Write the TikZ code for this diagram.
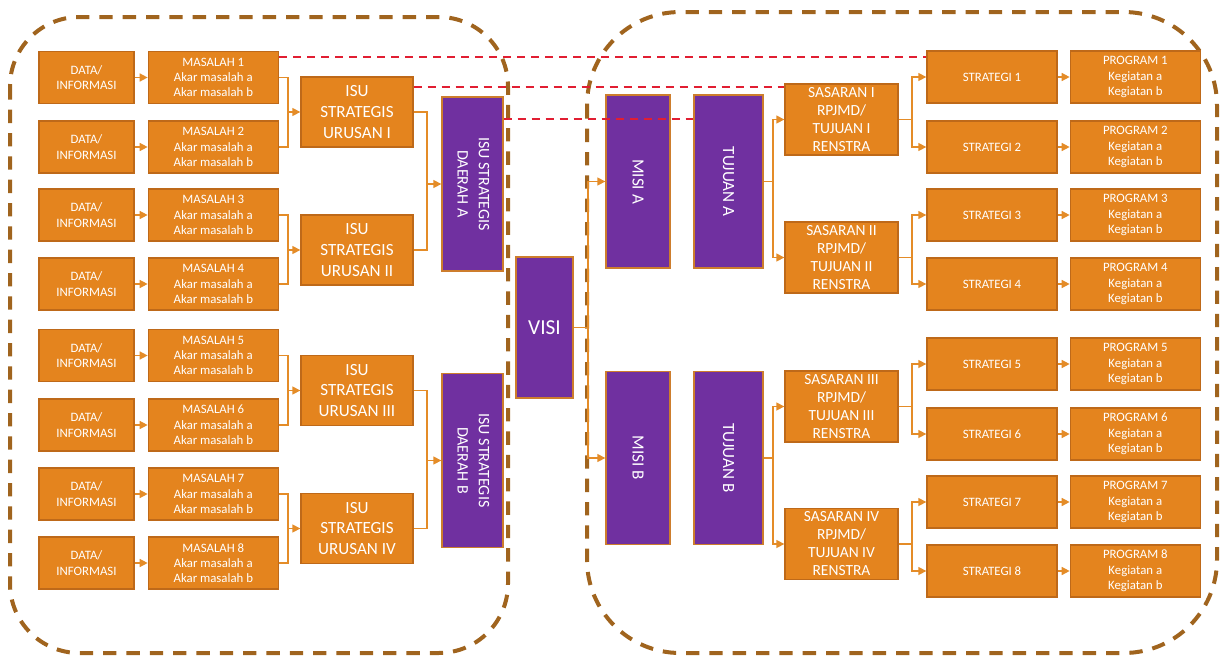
\documentclass[tikz,border=0pt]{standalone}
\usepackage{fontspec}
\setmainfont{Carlito}
\usepackage{tikz}
\usetikzlibrary{positioning,arrows.meta}
\definecolor{boxorange}{RGB}{228,132,30}
\definecolor{boxedge}{RGB}{190,105,25}
\definecolor{boxpurple}{RGB}{112,48,160}
\definecolor{purpleedge}{RGB}{205,125,45}
\definecolor{linkorange}{RGB}{228,140,40}
\definecolor{linkred}{RGB}{225,30,50}
\definecolor{zonebrown}{RGB}{160,100,30}
\tikzset{
    item/.style={
        rectangle,
        draw=boxedge,
        line width=1pt,
        fill=boxorange,
        text=white,
        align=center,
        inner sep=0pt,
        minimum width=97.5pt,
        minimum height=39pt,
        font=\fontsize{9.6pt}{11.5pt}\selectfont
    },
    datum/.style={item, minimum width=71.25pt},
    issue/.style={item, minimum width=84pt, minimum height=52.5pt, font=\fontsize{12.8pt}{15.5pt}\selectfont},
    target/.style={item, minimum width=84.75pt, minimum height=53.25pt, font=\fontsize{11.6pt}{13.5pt}\selectfont},
    pillar/.style={
        rectangle,
        draw=purpleedge,
        line width=1pt,
        fill=boxpurple,
        text=white,
        inner sep=0pt
    },
    arrow/.style={
        -{Triangle[length=6pt,width=6pt]},
        draw=linkorange,
        line width=1.1pt
    },
    joint/.style={draw=linkorange, line width=1.1pt},
    link/.style={draw=linkred, line width=1.5pt, dash pattern=on 6pt off 4.5pt},
    zone/.style={draw=zonebrown, line width=3pt, dash pattern=on 10pt off 7.5pt}
}

\begin{document}
\begin{tikzpicture}[x=0.75pt, y=-0.75pt]
          \useasboundingbox (0,0) rectangle (1221,657);
          % dashed zones
          \draw [zone, rounded corners=52pt] (10,17) rectangle (508,653);
          \draw [zone, rounded corners=70pt] (587,12) rectangle (1217,653);
          % left side
          \node (data1) [datum] at (86.5,77.5) {DATA/\\INFORMASI};
          \node (data2) [datum] at (86.5,147) {DATA/\\INFORMASI};
          \node (data3) [datum] at (86.5,215) {DATA/\\INFORMASI};
          \node (data4) [datum] at (86.5,284) {DATA/\\INFORMASI};
          \node (data5) [datum] at (86.5,355.5) {DATA/\\INFORMASI};
          \node (data6) [datum] at (86.5,425) {DATA/\\INFORMASI};
          \node (data7) [datum] at (86.5,494) {DATA/\\INFORMASI};
          \node (data8) [datum] at (86.5,563) {DATA/\\INFORMASI};
          \node (mas1) [item, right=9.75pt of data1] {MASALAH 1\\Akar masalah a\\Akar masalah b};
          \node (mas2) [item, right=9.75pt of data2] {MASALAH 2\\Akar masalah a\\Akar masalah b};
          \node (mas3) [item, right=9.75pt of data3] {MASALAH 3\\Akar masalah a\\Akar masalah b};
          \node (mas4) [item, right=9.75pt of data4] {MASALAH 4\\Akar masalah a\\Akar masalah b};
          \node (mas5) [item, right=9.75pt of data5] {MASALAH 5\\Akar masalah a\\Akar masalah b};
          \node (mas6) [item, right=9.75pt of data6] {MASALAH 6\\Akar masalah a\\Akar masalah b};
          \node (mas7) [item, right=9.75pt of data7] {MASALAH 7\\Akar masalah a\\Akar masalah b};
          \node (mas8) [item, right=9.75pt of data8] {MASALAH 8\\Akar masalah a\\Akar masalah b};
          \node (isu1) [issue] at (357,112) {ISU\\STRATEGIS\\URUSAN I};
          \node (isu2) [issue] at (357,250) {ISU\\STRATEGIS\\URUSAN II};
          \node (isu3) [issue] at (357,390.5) {ISU\\STRATEGIS\\URUSAN III};
          \node (isu4) [issue] at (357,528.5) {ISU\\STRATEGIS\\URUSAN IV};
          \node (daerahA) [pillar, minimum width=45.75pt, minimum height=130.5pt, font=\fontsize{12pt}{16pt}\selectfont] at (472.5,184)
              {\rotatebox{-90}{\begin{tabular}{@{}c@{}}ISU STRATEGIS\\DAERAH A\end{tabular}}};
          \node (daerahB) [pillar, minimum width=45.75pt, minimum height=130.5pt, font=\fontsize{12pt}{16pt}\selectfont] at (472.5,460.5)
              {\rotatebox{-90}{\begin{tabular}{@{}c@{}}ISU STRATEGIS\\DAERAH B\end{tabular}}};
          % middle
          \node (visi) [pillar, minimum width=42.75pt, minimum height=105.75pt, font=\fontsize{16pt}{19pt}\selectfont] at (544.5,327.5) {VISI};
          \node (misiA) [pillar, minimum width=48pt, minimum height=129.75pt, font=\fontsize{12.8pt}{15pt}\selectfont] at (638,181.5) {\rotatebox{-90}{MISI A}};
          \node (misiB) [pillar, minimum width=48pt, minimum height=129.75pt, font=\fontsize{12.8pt}{15pt}\selectfont] at (638,458) {\rotatebox{-90}{MISI B}};
          \node (tujA) [pillar, minimum width=51.75pt, minimum height=129.75pt, font=\fontsize{12.8pt}{15pt}\selectfont] at (728.5,181.5) {\rotatebox{-90}{TUJUAN A}};
          \node (tujB) [pillar, minimum width=51.75pt, minimum height=129.75pt, font=\fontsize{12.8pt}{15pt}\selectfont] at (728.5,458) {\rotatebox{-90}{TUJUAN B}};
          % right side
          \node (sas1) [target] at (841.5,119.5) {SASARAN I\\RPJMD/\\TUJUAN I\\RENSTRA};
          \node (sas2) [target] at (841.5,257.5) {SASARAN II\\RPJMD/\\TUJUAN II\\RENSTRA};
          \node (sas3) [target] at (841.5,406.5) {SASARAN III\\RPJMD/\\TUJUAN III\\RENSTRA};
          \node (sas4) [target] at (841.5,544) {SASARAN IV\\RPJMD/\\TUJUAN IV\\RENSTRA};
          \node (strat1) [item] at (992,77) {STRATEGI 1};
          \node (strat2) [item] at (992,147) {STRATEGI 2};
          \node (strat3) [item] at (992,215) {STRATEGI 3};
          \node (strat4) [item] at (992,284) {STRATEGI 4};
          \node (strat5) [item] at (992,364) {STRATEGI 5};
          \node (strat6) [item] at (992,434) {STRATEGI 6};
          \node (strat7) [item] at (992,502) {STRATEGI 7};
          \node (strat8) [item] at (992,571) {STRATEGI 8};
          \node (prog1) [item, right=9pt of strat1] {PROGRAM 1\\Kegiatan a\\Kegiatan b};
          \node (prog2) [item, right=9pt of strat2] {PROGRAM 2\\Kegiatan a\\Kegiatan b};
          \node (prog3) [item, right=9pt of strat3] {PROGRAM 3\\Kegiatan a\\Kegiatan b};
          \node (prog4) [item, right=9pt of strat4] {PROGRAM 4\\Kegiatan a\\Kegiatan b};
          \node (prog5) [item, right=9pt of strat5] {PROGRAM 5\\Kegiatan a\\Kegiatan b};
          \node (prog6) [item, right=9pt of strat6] {PROGRAM 6\\Kegiatan a\\Kegiatan b};
          \node (prog7) [item, right=9pt of strat7] {PROGRAM 7\\Kegiatan a\\Kegiatan b};
          \node (prog8) [item, right=9pt of strat8] {PROGRAM 8\\Kegiatan a\\Kegiatan b};
          % junctions
          \coordinate (j1) at (288,112);
          \coordinate (j2) at (288,250);
          \coordinate (j3) at (288,390.5);
          \coordinate (j4) at (288,528.5);
          \coordinate (jA) at (427,184);
          \coordinate (jB) at (427,460.5);
          \coordinate (jv) at (588,327.5);
          \coordinate (jtA) at (773,181.5);
          \coordinate (jtB) at (773,458);
          \coordinate (js1) at (912,119.5);
          \coordinate (js2) at (912,257.5);
          \coordinate (js3) at (912,406.5);
          \coordinate (js4) at (912,544);
          % connectors
          \draw [arrow] (data1) -- (mas1);
          \draw [arrow] (data2) -- (mas2);
          \draw [arrow] (data3) -- (mas3);
          \draw [arrow] (data4) -- (mas4);
          \draw [arrow] (data5) -- (mas5);
          \draw [arrow] (data6) -- (mas6);
          \draw [arrow] (data7) -- (mas7);
          \draw [arrow] (data8) -- (mas8);
          \draw [joint] (mas1.east) -| (j1) |- (mas2.east);
          \draw [joint] (mas3.east) -| (j2) |- (mas4.east);
          \draw [joint] (mas5.east) -| (j3) |- (mas6.east);
          \draw [joint] (mas7.east) -| (j4) |- (mas8.east);
          \draw [arrow] (j1) -- (isu1.west);
          \draw [arrow] (j2) -- (isu2.west);
          \draw [arrow] (j3) -- (isu3.west);
          \draw [arrow] (j4) -- (isu4.west);
          \draw [joint] (isu1.east) -| (jA) |- (isu2.east);
          \draw [joint] (isu3.east) -| (jB) |- (isu4.east);
          \draw [arrow] (jA) -- (daerahA.west |- jA);
          \draw [arrow] (jB) -- (daerahB.west |- jB);
          \draw [joint] (visi.east) -- (jv);
          \draw [arrow] (jv) |- (misiA.west);
          \draw [arrow] (jv) |- (misiB.west);
          \draw [joint] (tujA.east) -- (jtA);
          \draw [joint] (tujB.east) -- (jtB);
          \draw [arrow] (jtA) |- (sas1.west);
          \draw [arrow] (jtA) |- (sas2.west);
          \draw [arrow] (jtB) |- (sas3.west);
          \draw [arrow] (jtB) |- (sas4.west);
          \draw [joint] (sas1.east) -- (js1);
          \draw [joint] (sas2.east) -- (js2);
          \draw [joint] (sas3.east) -- (js3);
          \draw [joint] (sas4.east) -- (js4);
          \draw [arrow] (js1) |- (strat1.west);
          \draw [arrow] (js1) |- (strat2.west);
          \draw [arrow] (js2) |- (strat3.west);
          \draw [arrow] (js2) |- (strat4.west);
          \draw [arrow] (js3) |- (strat5.west);
          \draw [arrow] (js3) |- (strat6.west);
          \draw [arrow] (js4) |- (strat7.west);
          \draw [arrow] (js4) |- (strat8.west);
          \draw [arrow] (strat1) -- (prog1);
          \draw [arrow] (strat2) -- (prog2);
          \draw [arrow] (strat3) -- (prog3);
          \draw [arrow] (strat4) -- (prog4);
          \draw [arrow] (strat5) -- (prog5);
          \draw [arrow] (strat6) -- (prog6);
          \draw [arrow] (strat7) -- (prog7);
          \draw [arrow] (strat8) -- (prog8);
          % red dashed links
          \coordinate (r1) at ([yshift=-4.5pt]mas1.north east);
          \coordinate (r2) at ([yshift=-8.25pt]isu1.north east);
          \coordinate (r3) at ([yshift=-17.25pt]daerahA.north east);
          \draw [link] (r1) -- (r1 -| strat1.west);
          \draw [link] (r2) -- (r2 -| sas1.west);
          \draw [link] (r3) -- (r3 -| tujA.west);
        \end{tikzpicture}
\end{document}
